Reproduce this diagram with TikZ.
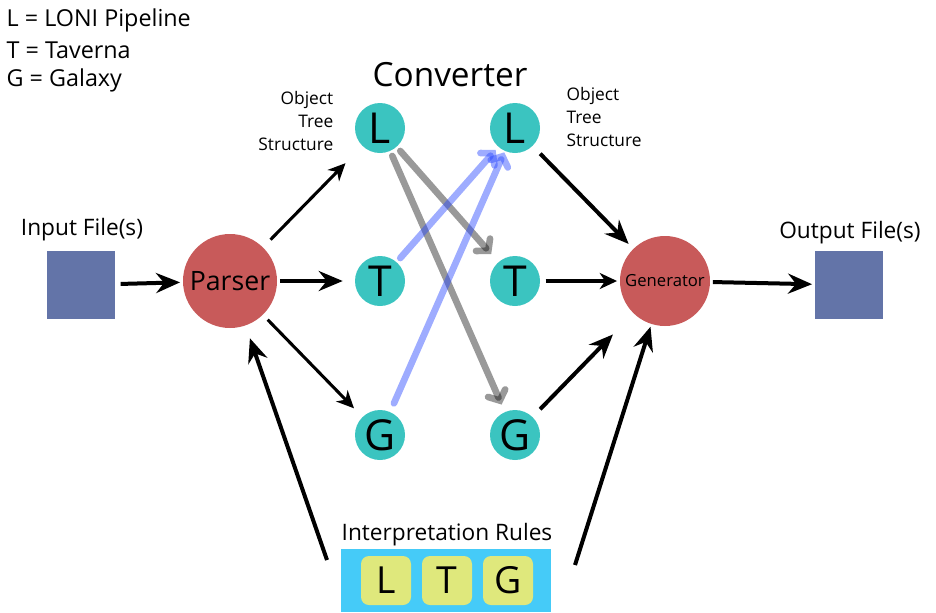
\documentclass[tikz,border=0pt]{standalone}
\usepackage{fontspec}
\setmainfont{Open Sans}
\usetikzlibrary{arrows.meta,positioning}
\definecolor{objcol}{RGB}{59,196,192}
\definecolor{proccol}{RGB}{200,90,90}
\definecolor{filecol}{RGB}{99,116,168}
\definecolor{rulecol}{RGB}{69,203,248}
\definecolor{keycol}{RGB}{223,232,124}
\definecolor{mapcol}{RGB}{40,70,255}

\begin{document}
\begin{tikzpicture}[x=0.75pt,y=-0.75pt]
  \tikzset{obj/.style = {shape=circle,fill=objcol,minimum size=37.5pt,inner sep=0pt,font=\fontsize{32}{32}\selectfont}}
  \tikzset{proc/.style = {shape=circle,fill=proccol,inner sep=0pt}}
  \tikzset{file/.style = {shape=rectangle,fill=filecol,minimum width=51pt,minimum height=51pt}}
  \tikzset{key/.style = {shape=rectangle,rounded corners=6pt,fill=keycol,minimum width=37.5pt,minimum height=36.75pt,font=\fontsize{28}{28}\selectfont}}
  \tikzset{lbl/.style = {font=\fontsize{17}{20}\selectfont}}
  \tikzset{small/.style = {font=\fontsize{13}{17}\selectfont}}
  \tikzset{arr/.style = {line width=2.3pt,-{Stealth[length=13pt,width=12pt,inset=4pt]}}}
  \tikzset{bigarr/.style = {line width=3pt,-{Stealth[length=18pt,width=15pt,inset=6pt]}}}
  \tikzset{map/.style = {line width=5pt,line cap=round,opacity=0.45,-{Straight Barb[length=6pt,width=14pt,line cap=round]}}}
  \useasboundingbox (0,0) rectangle (936,612);

  % legend
  \node[lbl,font=\fontsize{17.5}{20}\selectfont,anchor=west] (legL) at (2,20) {L = LONI Pipeline};
  \node[lbl,font=\fontsize{17.5}{20}\selectfont,anchor=west] (legT) at (2,50) {T = Taverna};
  \node[lbl,font=\fontsize{17.5}{20}\selectfont,anchor=west] (legG) at (2,80) {G = Galaxy};

  \node[font=\fontsize{25}{26}\selectfont] (conv) at (450,75) {Converter};
  \node[small,align=right,anchor=east] (otsL) at (338,121) {Object\\Tree\\Structure};
  \node[small,align=left,anchor=west] (otsR) at (562,117) {Object\\Tree\\Structure};

  % files
  \node[file] (in) at (81,285) {};
  \node[lbl] (inlbl) at (82,230) {Input File(s)};
  \node[file] (out) at (849,285) {};
  \node[lbl] (outlbl) at (850,233) {Output File(s)};

  % parser and generator
  \node[proc,minimum size=70.5pt,font=\fontsize{20}{20}\selectfont] (P) at (230,281) {Parser};
  \node[proc,minimum size=67.5pt,font=\fontsize{12.5}{12.5}\selectfont] (Gen) at (665,281) {Generator};

  % object trees
  \node[obj] (L1) at (380,128) {L};
  \node[obj] (T1) at (380,281) {T};
  \node[obj] (G1) at (380,435) {G};
  \node[obj] (L2) at (515,128) {L};
  \node[obj] (T2) at (515,281) {T};
  \node[obj] (G2) at (515,435) {G};

  % rules
  \node[shape=rectangle,fill=rulecol,minimum width=157.5pt,minimum height=47.25pt] (R) at (446,580.5) {};
  \node[lbl] (Rlbl) at (447,535) {Interpretation Rules};
  \node[key] (kL) at (386,580.5) {L};
  \node[key] (kT) at (447,580.5) {T};
  \node[key] (kG) at (508,580.5) {G};
  \coordinate (rl) at (327,560);
  \coordinate (rr) at (575,565);

  \foreach \from/\to/\s/\e in {P/L1/8/18, P/G1/5/9, T2/Gen/4/2}
    \draw[arr,shorten <=\s pt,shorten >=\e pt] (\from) -- (\to);

  \foreach \from/\to/\s/\e in {in/P/4/2, P/T1/2/9, L2/Gen/8/5, G2/Gen/8/22, Gen/out/2/2, rl/P/0/10, rr/Gen/0/2}
    \draw[bigarr,shorten <=\s pt,shorten >=\e pt] (\from) -- (\to);

  \foreach \from/\to/\e in {L1/T2/8, L1/G2/6}
    \draw[map,black,opacity=0.4,shorten <=4pt,shorten >=\e pt] (\from) -- (\to);
  \foreach \from/\to/\s/\e in {T1/L2/4/3, G1/L2/7/1}
    \draw[map,mapcol,shorten <=\s pt,shorten >=\e pt] (\from) -- (\to);

\end{tikzpicture}
\end{document}
